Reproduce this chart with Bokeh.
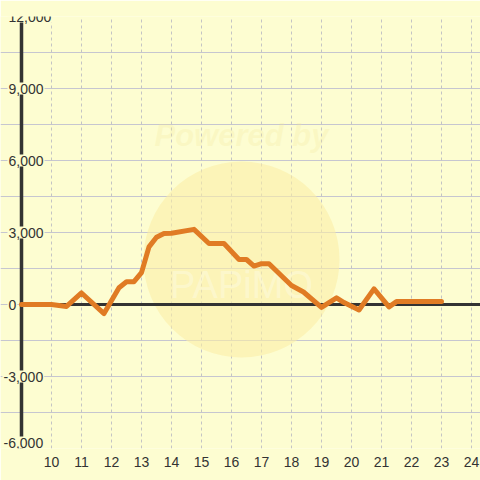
from bokeh.plotting import figure
from bokeh.models import Range1d, FixedTicker, Grid, ColumnDataSource
from bokeh.core.properties import value
from bokeh.embed import file_html
from bokeh.resources import INLINE

# ---- data ----
hours = [9.0, 10.0, 10.5, 11.0, 11.75, 12.25, 12.5, 12.75, 13.0, 13.25, 13.5,
         13.75, 14.0, 14.75, 15.25, 15.75, 16.25, 16.5, 16.75, 17.0, 17.25,
         18.0, 18.4, 19.0, 19.5, 19.75, 20.25, 20.75, 21.25, 21.5, 23.0]
values = [0, 0, -80, 480, -380, 700, 950, 950, 1330, 2400, 2800,
          2960, 2970, 3130, 2540, 2540, 1875, 1875, 1600, 1700, 1700,
          790, 520, -120, 280, 80, -230, 650, -100, 120, 120]
x_ticks = [10, 11, 12, 13, 14, 15, 16, 17, 18, 19, 20, 21, 22, 23, 24]
y_ticks = [12000, 9000, 6000, 3000, 0, -3000, -6000]
y_labels = ["12,000", "9,000", "6,000", "3,000", "0", "-3,000", "-6,000"]
y_minor = [12000, 10500, 9000, 7500, 6000, 4500, 3000, 1500, 0,
           -1500, -3000, -4500, -6000]

BG = "#FDFDD1"
TXT = "#333333"
FONT = "Liberation Sans"
X0 = hours[0]
PX_PER_H = 30.0
X_START = X0 - 21 / PX_PER_H
X_END = X0 + 459 / PX_PER_H
Y_MIN, Y_MAX = -6000, 12000

p = figure(width=480, height=480,
           x_range=Range1d(X_START, X_END), y_range=Range1d(Y_MIN, Y_MAX),
           output_backend="svg", toolbar_location=None,
           y_axis_location=None,
           min_border_left=0, min_border_right=0,
           min_border_top=16, min_border_bottom=32,
           background_fill_color=BG, border_fill_color=BG,
           outline_line_color=None)

for g in p.xgrid:
    g.visible = False
for g in p.ygrid:
    g.visible = False

ygrid = Grid(dimension=1, ticker=FixedTicker(ticks=y_minor),
             grid_line_color="#c6c6d0", grid_line_width=1,
             bounds=(X0, X_END))
xgrid = Grid(dimension=0, ticker=FixedTicker(ticks=x_ticks),
             grid_line_color="#c4c4c4", grid_line_width=1,
             grid_line_dash="3 3")
p.add_layout(ygrid)
p.add_layout(xgrid)

p.xaxis.ticker = FixedTicker(ticks=x_ticks)
p.xaxis.axis_line_color = None
p.xaxis.major_tick_line_color = None
p.xaxis.minor_tick_line_color = None
p.xaxis.major_label_standoff = 2
p.xaxis.major_label_text_font = FONT
p.xaxis.major_label_text_font_size = "14px"
p.xaxis.major_label_text_color = TXT

# watermark
wm_x = X0 + (241 - 21) / PX_PER_H
p.circle(x=[wm_x], y=[1875], radius=98, radius_units="screen",
         fill_color="#FCEFA6", fill_alpha=0.6, line_color=None)
p.text(x=[wm_x], y=[7050], text=["Powered by"], text_align="center",
       text_baseline="middle", text_font=value(FONT), text_font_style="bold italic",
       text_font_size="31px", text_color="#F2E89A", text_alpha=0.25)
p.text(x=[wm_x], y=[800], text=["PAPiMO"], text_align="center",
       text_baseline="middle", text_font=value(FONT),
       text_font_size="38px", text_color="#FFFFFF", text_alpha=0.3)

# zero line and y axis line
p.segment(x0=[X0], y0=[0], x1=[X_END], y1=[0], line_width=3, line_color=TXT)
p.segment(x0=[X0], y0=[Y_MIN], x1=[X0], y1=[Y_MAX], line_width=3.5, line_color=TXT)

# y tick labels (drawn over the axis line)
lab_src = ColumnDataSource(dict(
    x=[X_START] * len(y_ticks), y=y_ticks, text=y_labels,
    xo=[2 if v < 0 else 7 for v in y_ticks],
    yo=[-6 if v == Y_MIN else 0 for v in y_ticks]))
p.text(x="x", y="y", text="text", source=lab_src, x_offset="xo", y_offset="yo",
       text_align="left", text_baseline="middle", text_font=value(FONT),
       text_font_size="14px", text_color=TXT,
       background_fill_color=BG, padding=1)

# data line
p.line(hours, values, line_width=5, line_color="#E07B24",
       line_join="round", line_cap="round")

open("out.html", "w").write(file_html(p, INLINE))
